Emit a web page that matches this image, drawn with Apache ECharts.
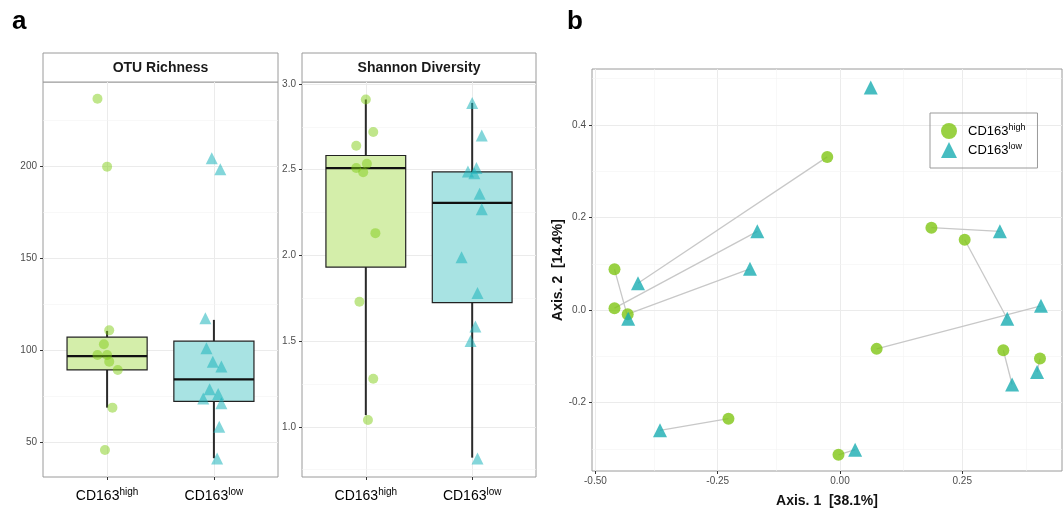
<!DOCTYPE html>
<html>
<head>
<meta charset="utf-8">
<script src="https://cdn.jsdelivr.net/npm/echarts@6/dist/echarts.min.js"></script>
<style>
  html, body { margin: 0; padding: 0; background: #fff; }
  #chart { width: 1064px; height: 513px; }
</style>
</head>
<body>
<div id="chart"></div>
<script>
var groupBase = 'CD163'
var groupSup = ['high', 'low']

// OTU richness: jittered points [x, value], x = group index + jitter
var otuHigh = [[0.91, 236.9], [1.0, 200], [1.02, 111], [0.97, 103.5], [0.91, 97.6], [1.0, 97.6], [1.02, 94], [1.1, 89.5], [1.05, 69], [0.98, 46]]
var otuLow = [[1.98, 204.5], [2.06, 198.6], [1.92, 117.6], [1.93, 101.3], [1.99, 94], [2.07, 91.3], [1.96, 79], [2.04, 76.4], [1.9, 74], [2.07, 71.4], [2.05, 58.6], [2.03, 41.4]]
// box stats: [x, lower whisker, q1, median, q3, upper whisker]
var otuBox = [[1, 69, 89.5, 97, 107.3, 110.7], [2, 41.5, 72.4, 84.4, 105.1, 116.7]]

// Shannon diversity
var shanHigh = [[1.0, 2.91], [1.07, 2.72], [0.91, 2.64], [0.91, 2.51], [1.01, 2.535], [0.975, 2.485], [1.09, 2.13], [0.94, 1.73], [1.07, 1.28], [1.02, 1.04]]
var shanLow = [[2.0, 2.89], [2.09, 2.7], [1.96, 2.49], [2.04, 2.51], [2.02, 2.48], [2.07, 2.36], [2.09, 2.27], [1.9, 1.99], [2.05, 1.78], [2.03, 1.585], [1.985, 1.5], [2.05, 0.815]]
var shanBox = [[1, 1.068, 1.932, 2.51, 2.583, 2.91], [2, 0.82, 1.725, 2.307, 2.487, 2.89]]

// PCoA ordination
var pcoaHigh = [[-0.461, 0.088], [-0.461, 0.004], [-0.434, -0.009], [-0.228, -0.235], [-0.026, 0.331], [0.187, 0.178], [0.255, 0.152], [0.075, -0.084], [0.334, -0.087], [0.409, -0.105], [-0.003, -0.313]]
var pcoaLow = [[-0.169, 0.17], [-0.184, 0.089], [-0.413, 0.058], [-0.433, -0.019], [-0.368, -0.26], [0.063, 0.481], [0.327, 0.17], [0.411, 0.009], [0.342, -0.019], [0.403, -0.134], [0.352, -0.161], [0.031, -0.302]]
// segments joining paired samples: [index in pcoaHigh, index in pcoaLow]
var pairs = [[4, 2], [1, 0], [2, 1], [0, 3], [3, 4], [5, 6], [6, 8], [7, 7], [8, 10], [10, 11], [9, 9]]

var otuTicks = [50, 100, 150, 200]
var otuMinor = [75, 125, 175, 225]
var shanTicks = [1.0, 1.5, 2.0, 2.5, 3.0]
var shanMinor = [0.75, 1.25, 1.75, 2.25, 2.75]
var pcoaXTicks = [-0.5, -0.25, 0, 0.25]
var pcoaXMinor = [-0.375, -0.125, 0.125, 0.375]
var pcoaYTicks = [-0.2, 0, 0.2, 0.4]
var pcoaYMinor = [-0.3, -0.1, 0.1, 0.3, 0.5]
var groupPos = [1, 2]

var FONT = '"Liberation Sans", Arial, sans-serif'
var GREEN = '#80c614'
var CYAN = '#19adb2'
var GREEN_PT = 'rgba(128,204,20,0.62)'
var CYAN_PT = 'rgba(24,178,186,0.67)'
var boxFill = ['#d4eeaa', '#a8e3e3']

var supRich = {
  b: { fontSize: 14, color: '#000', fontFamily: FONT, lineHeight: 18 },
  s: { fontSize: 10, color: '#000', fontFamily: FONT, padding: [0, 0, 7, 0] }
}

function yAxisFor(grid, min, max, ticks, digits) {
  return {
    type: 'value', gridIndex: grid, min: min, max: max,
    axisLine: { show: false, onZero: false },
    splitLine: { show: false },
    axisTick: { show: true, length: 3, customValues: ticks, lineStyle: { color: '#333' } },
    axisLabel: {
      customValues: ticks, margin: 6, fontSize: 10, color: '#4d4d4d', fontFamily: FONT,
      formatter: function (v) { return digits == null ? String(v) : Number(v).toFixed(digits) }
    }
  }
}

function groupXAxis(grid) {
  return {
    type: 'value', gridIndex: grid, min: 0.4, max: 2.6,
    axisLine: { show: false, onZero: false },
    splitLine: { show: false },
    axisTick: { show: true, length: 3, customValues: groupPos, lineStyle: { color: '#333' } },
    axisLabel: {
      customValues: groupPos, margin: 10, rich: supRich,
      formatter: function (v) { return '{b|' + groupBase + '}{s|' + groupSup[Math.round(v) - 1] + '}' }
    }
  }
}

function gridLines(xi, xs, xm, ys, ym) {
  var d = []
  xs.forEach(function (v) { d.push({ xAxis: v }) })
  xm.forEach(function (v) { d.push({ xAxis: v, lineStyle: { width: 0.6, color: '#f3f3f3' } }) })
  ys.forEach(function (v) { d.push({ yAxis: v }) })
  ym.forEach(function (v) { d.push({ yAxis: v, lineStyle: { width: 0.6, color: '#f3f3f3' } }) })
  return {
    type: 'line', xAxisIndex: xi, yAxisIndex: xi, data: [], z: 0, silent: true,
    markLine: {
      silent: true, symbol: 'none', label: { show: false }, animation: false, z: 0,
      lineStyle: { type: 'solid', color: '#ebebeb', width: 1 },
      data: d
    }
  }
}

function boxSeries(xi, data) {
  return {
    type: 'custom', xAxisIndex: xi, yAxisIndex: xi, z: 2, silent: true,
    data: data,
    encode: { x: 0, y: [1, 2, 3, 4, 5] },
    renderItem: function (params, api) {
      var x = api.value(0)
      var lo = api.coord([x, api.value(1)])
      var q1 = api.coord([x, api.value(2)])
      var md = api.coord([x, api.value(3)])
      var q3 = api.coord([x, api.value(4)])
      var hi = api.coord([x, api.value(5)])
      var half = api.size([0.75, 0])[0] / 2
      return {
        type: 'group',
        children: [
          { type: 'line', shape: { x1: lo[0], y1: lo[1], x2: q1[0], y2: q1[1] }, style: { stroke: '#2a2a2a', lineWidth: 2 } },
          { type: 'line', shape: { x1: q3[0], y1: q3[1], x2: hi[0], y2: hi[1] }, style: { stroke: '#2a2a2a', lineWidth: 2 } },
          { type: 'rect', shape: { x: q3[0] - half, y: q3[1], width: half * 2, height: q1[1] - q3[1] }, style: { fill: boxFill[params.dataIndex], stroke: '#222', lineWidth: 1.2 } },
          { type: 'line', shape: { x1: md[0] - half, y1: md[1], x2: md[0] + half, y2: md[1] }, style: { stroke: '#111', lineWidth: 2.2 } }
        ]
      }
    }
  }
}

function points(xi, data, sym, size, color, name) {
  return {
    type: 'scatter', name: name, xAxisIndex: xi, yAxisIndex: xi, z: 3, silent: true,
    symbol: sym, symbolSize: size, data: data,
    itemStyle: { color: color }
  }
}

var segs = pairs.map(function (p) { return { coords: [pcoaHigh[p[0]], pcoaLow[p[1]]] } })

var chart = echarts.init(document.getElementById('chart'), null, { renderer: 'canvas' })

var option = {
  animation: false,
  backgroundColor: '#fff',
  textStyle: { fontFamily: FONT },
  grid: [
    { left: 43, top: 82, width: 235, height: 395, show: true, borderColor: '#9a9a9a', borderWidth: 1, backgroundColor: 'transparent' },
    { left: 302, top: 82, width: 234, height: 395, show: true, borderColor: '#9a9a9a', borderWidth: 1, backgroundColor: 'transparent' },
    { left: 592, top: 69, width: 470, height: 404, show: true, borderColor: '#9a9a9a', borderWidth: 1, backgroundColor: 'transparent' }
  ],
  xAxis: [
    groupXAxis(0),
    groupXAxis(1),
    {
      type: 'value', gridIndex: 2, min: -0.507, max: 0.454,
      axisLine: { show: false, onZero: false }, splitLine: { show: false },
      axisTick: { show: true, length: 3, customValues: pcoaXTicks, lineStyle: { color: '#333' } },
      axisLabel: { customValues: pcoaXTicks, margin: 5, fontSize: 10, color: '#4d4d4d', fontFamily: FONT, formatter: function (v) { return Number(v).toFixed(2) } },
      name: 'Axis. 1  [38.1%]', nameLocation: 'middle', nameGap: 23,
      nameTextStyle: { fontSize: 14, fontWeight: 'bold', color: '#111', fontFamily: FONT }
    }
  ],
  yAxis: [
    yAxisFor(0, 31.3, 246, otuTicks, null),
    yAxisFor(1, 0.707, 3.012, shanTicks, 1),
    Object.assign(yAxisFor(2, -0.348, 0.521, pcoaYTicks, 1), {
      name: 'Axis. 2  [14.4%]', nameLocation: 'middle', nameGap: 27,
      nameTextStyle: { fontSize: 14, fontWeight: 'bold', color: '#111', fontFamily: FONT }
    })
  ],
  legend: {
    data: [{ name: groupBase + groupSup[0], icon: 'circle' }, { name: groupBase + groupSup[1], icon: 'triangle' }],
    orient: 'vertical', left: 930, top: 113,
    padding: [10, 12, 10, 11], itemGap: 3, itemWidth: 16, itemHeight: 16,
    borderColor: '#9a9a9a', borderWidth: 1, selectedMode: false,
    formatter: function (name) { return '{b|' + groupBase + '}{s|' + name.slice(groupBase.length) + '}' },
    textStyle: {
      rich: {
        b: { fontSize: 13, color: '#000', fontFamily: FONT, lineHeight: 18, padding: [0, 0, 0, 6] },
        s: { fontSize: 9, color: '#000', fontFamily: FONT, lineHeight: 18, padding: [0, 0, 6, 0] }
      }
    }
  },
  graphic: [
    { type: 'rect', shape: { x: 43, y: 53, width: 235, height: 29 }, style: { fill: '#fff', stroke: '#9a9a9a', lineWidth: 1 } },
    { type: 'rect', shape: { x: 302, y: 53, width: 234, height: 29 }, style: { fill: '#fff', stroke: '#9a9a9a', lineWidth: 1 } },
    { type: 'text', x: 160.5, y: 68, style: { text: 'OTU Richness', fill: '#1a1a1a', font: 'bold 14px ' + FONT, textAlign: 'center', textVerticalAlign: 'middle' } },
    { type: 'text', x: 419, y: 68, style: { text: 'Shannon Diversity', fill: '#1a1a1a', font: 'bold 14px ' + FONT, textAlign: 'center', textVerticalAlign: 'middle' } },
    { type: 'text', x: 12, y: 22, style: { text: 'a', fill: '#000', font: 'bold 26px ' + FONT, textAlign: 'left', textVerticalAlign: 'middle' } },
    { type: 'text', x: 567, y: 22, style: { text: 'b', fill: '#000', font: 'bold 26px ' + FONT, textAlign: 'left', textVerticalAlign: 'middle' } }
  ],
  series: [
    gridLines(0, groupPos, [], otuTicks, otuMinor),
    gridLines(1, groupPos, [], shanTicks, shanMinor),
    gridLines(2, pcoaXTicks, pcoaXMinor, pcoaYTicks, pcoaYMinor),
    boxSeries(0, otuBox),
    boxSeries(1, shanBox),
    points(0, otuHigh, 'circle', 10, GREEN_PT, 'otu-high'),
    points(0, otuLow, 'triangle', 12, CYAN_PT, 'otu-low'),
    points(1, shanHigh, 'circle', 10, GREEN_PT, 'shan-high'),
    points(1, shanLow, 'triangle', 12, CYAN_PT, 'shan-low'),
    {
      type: 'lines', coordinateSystem: 'cartesian2d', xAxisIndex: 2, yAxisIndex: 2, z: 1, silent: true,
      data: segs, lineStyle: { color: '#c8c8c8', width: 1.3, opacity: 1 }
    },
    points(2, pcoaHigh, 'circle', 12, GREEN, groupBase + groupSup[0]),
    points(2, pcoaLow, 'triangle', 14, CYAN, groupBase + groupSup[1])
  ]
}

chart.setOption(option)
</script>
</body>
</html>
